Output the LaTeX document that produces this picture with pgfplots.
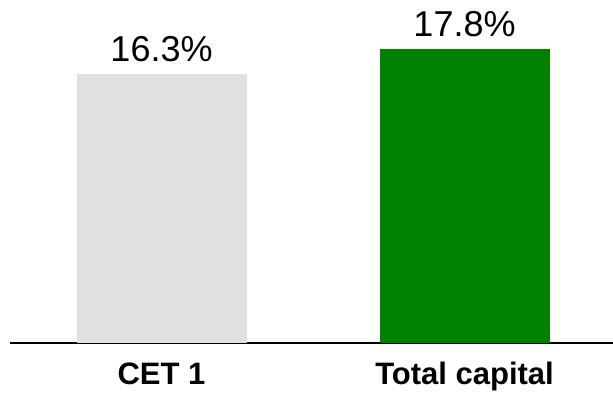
\documentclass[border=0pt]{standalone}
\usepackage{fontspec}
\setmainfont{Liberation Sans}
\usepackage{pgfplots}
\pgfplotsset{compat=1.18}
\definecolor{cetgray}{HTML}{E0E0E0}
\definecolor{capgreen}{HTML}{008000}
\begin{document}
\begin{tikzpicture}[x=1bp,y=1bp]
\useasboundingbox (0,0) rectangle (613,394);
\begin{axis}[
  at={(9.5bp,51bp)}, anchor=south west,
  scale only axis, width=603.5bp, height=300bp,
  xmin=-0.5017, xmax=1.490,
  ymin=0, ymax=18.16,
  axis x line=bottom, axis y line=none,
  axis line style={black, line width=1.5bp, -},
  xtick={0,1}, xticklabels={CET 1, Total capital},
  major tick length=0pt,
  xticklabel style={font=\fontsize{31bp}{37bp}\selectfont\bfseries, anchor=base, yshift=-41.5bp},
  ybar, bar width=170bp, bar shift=0pt,
  /pgf/number format/assume math mode=true,
  nodes near coords={\pgfmathprintnumber[fixed,precision=1,fixed zerofill]{\pgfplotspointmeta}\%},
  every node near coord/.append style={font=\fontsize{36bp}{43bp}\selectfont, anchor=base, yshift=12.5bp, black},
  clip=false,
]
\addplot[fill=cetgray, draw=none] coordinates {(0,16.3)};
\addplot[fill=capgreen, draw=none] coordinates {(1,17.8)};
\end{axis}
\end{tikzpicture}
\end{document}
